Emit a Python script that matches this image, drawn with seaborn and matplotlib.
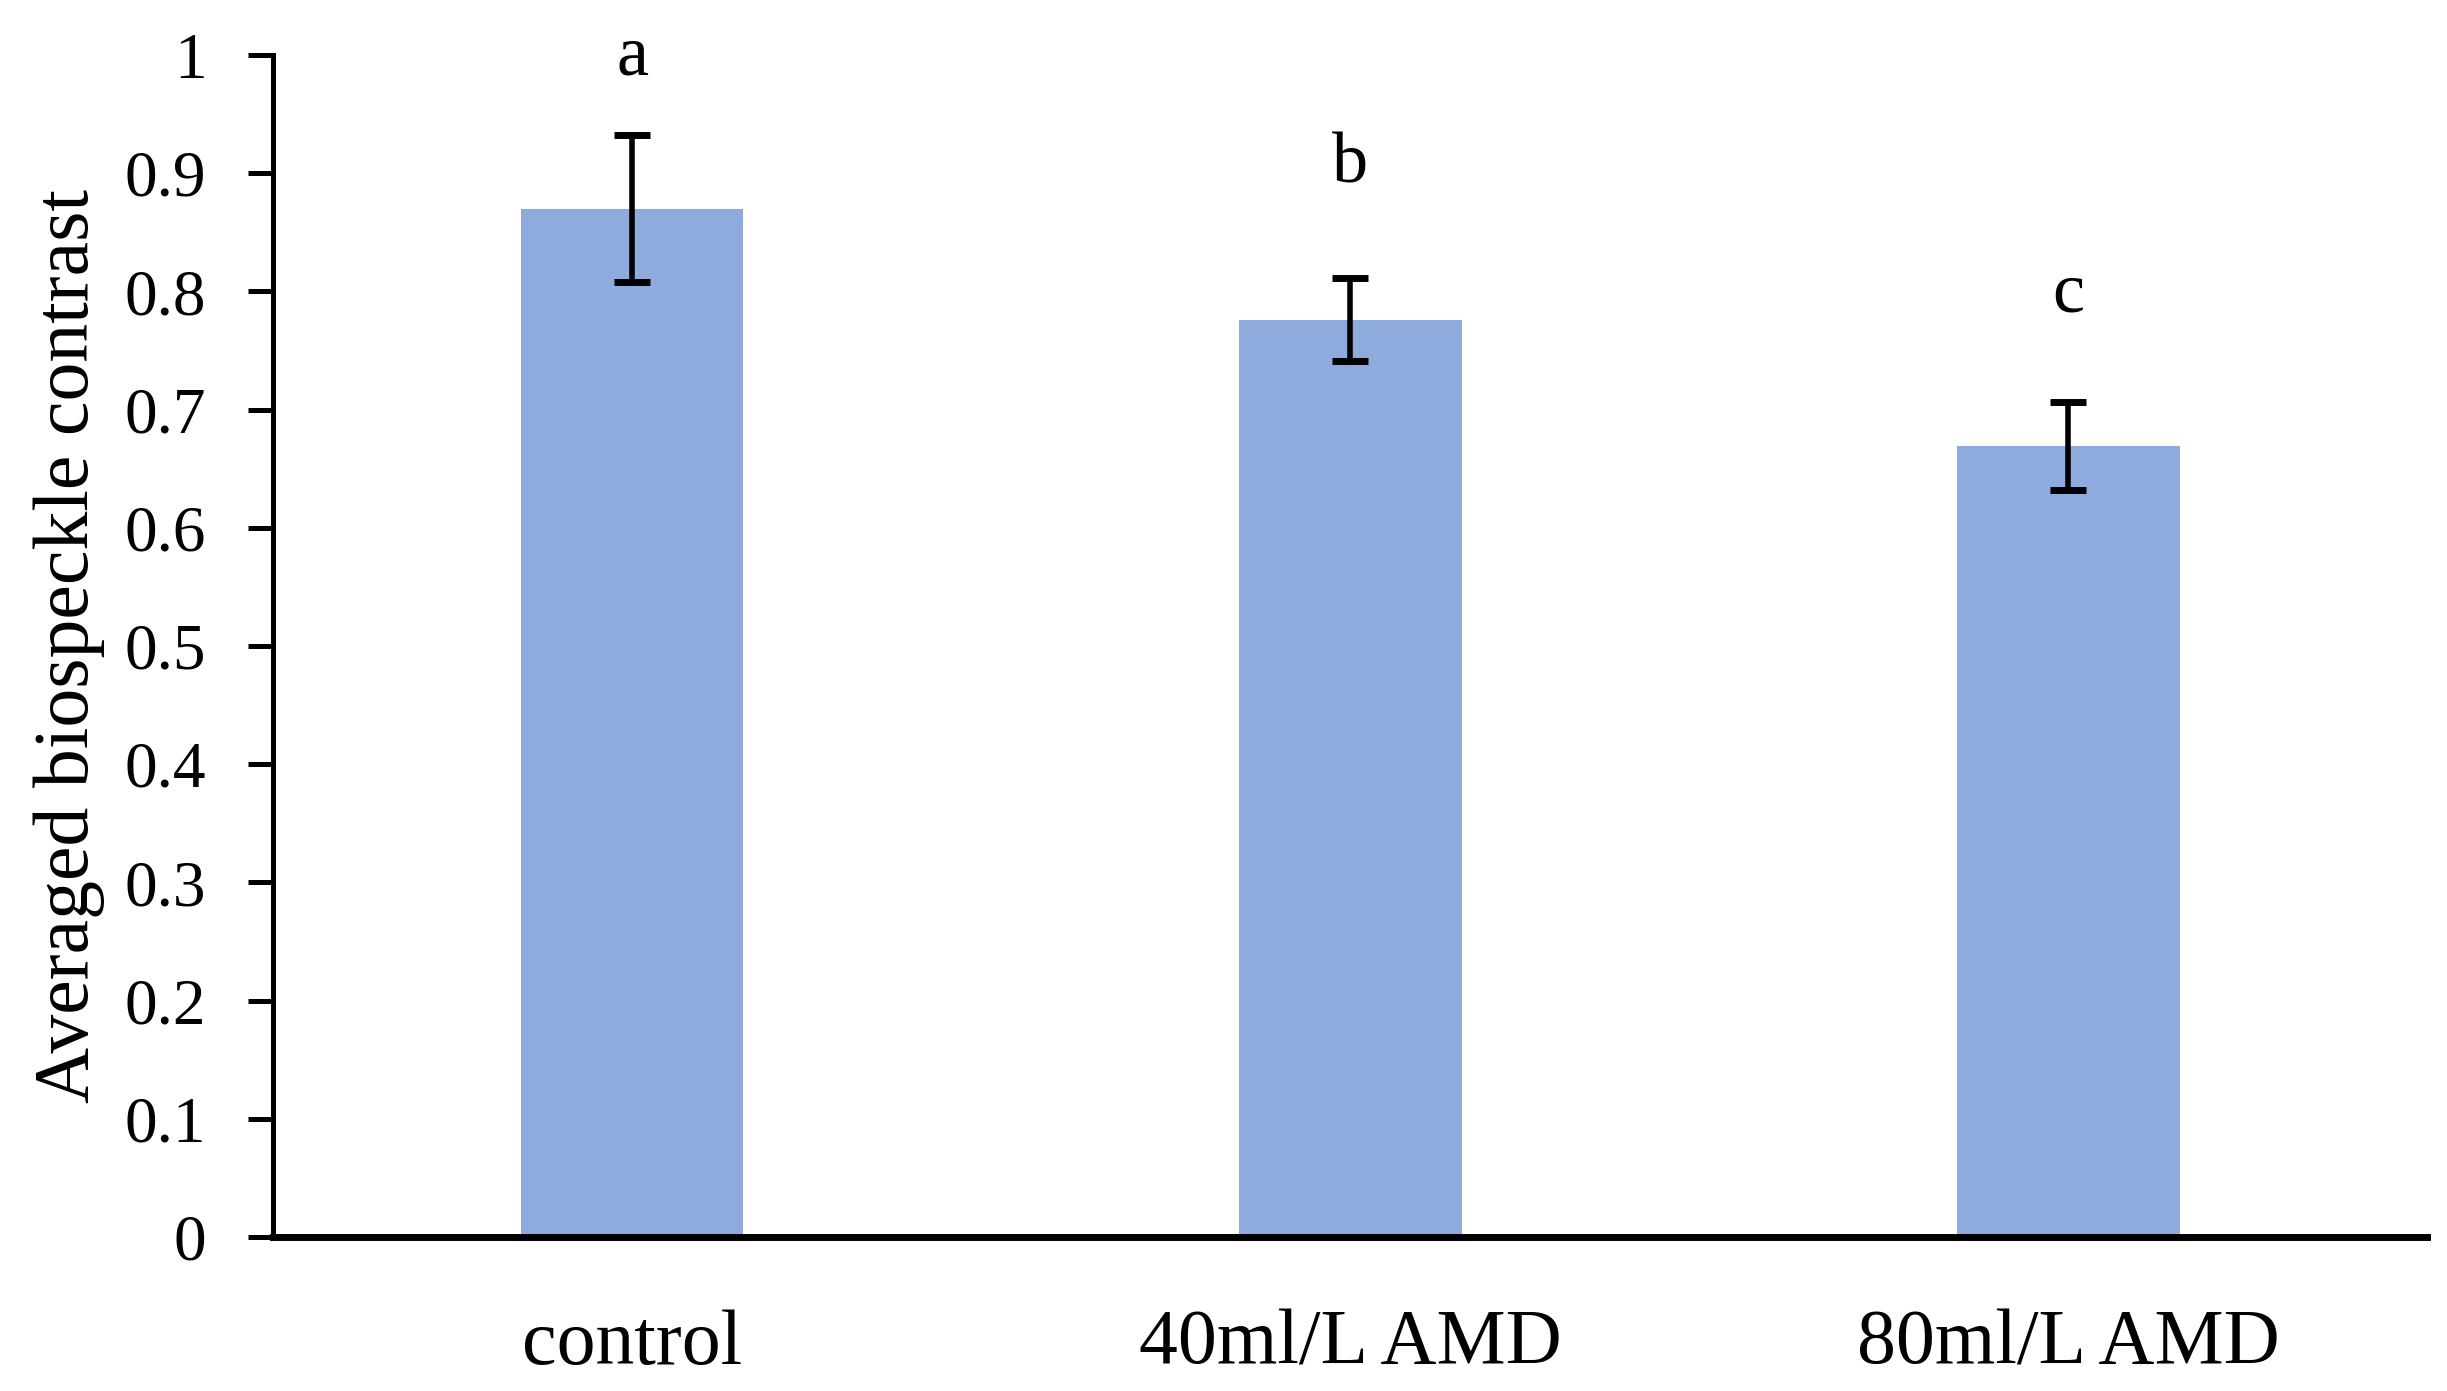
import matplotlib
matplotlib.use("Agg")
import matplotlib.pyplot as plt
import seaborn as sns
import pandas as pd
import numpy as np

categories = ["control", "40ml/L AMD", "80ml/L AMD"]
means = [0.870, 0.776, 0.669]
errors = [0.062, 0.035, 0.037]
letters = ["a", "b", "c"]
letter_y = [0.998, 0.907, 0.798]
yticks = [0, 0.1, 0.2, 0.3, 0.4, 0.5, 0.6, 0.7, 0.8, 0.9, 1]
ytick_labels = ["0", "0.1", "0.2", "0.3", "0.4", "0.5", "0.6", "0.7", "0.8", "0.9", "1"]

sns.set_theme(style="white")
plt.rcParams['font.family'] = ['Liberation Serif', 'DejaVu Serif']

df = pd.DataFrame({"cat": categories, "val": means})

fig = plt.figure(figsize=(24.47, 13.91), dpi=100)
ax = fig.add_axes([0.1116, 0.1107, 0.8804, 0.8498])
sns.barplot(data=df, x="cat", y="val", color="#8FAADC", saturation=1, width=0.31, ax=ax, errorbar=None)
for p in ax.patches:
    p.set_edgecolor("none")
ax.errorbar(range(len(categories)), means, yerr=errors, fmt="none", ecolor="black",
            elinewidth=4, capsize=13, capthick=5)
for i, (l, y) in enumerate(zip(letters, letter_y)):
    ax.text(i, y, l, ha="center", va="center", fontsize=52, color="black")

ax.set_xlim(-0.5, 2.5)
ax.set_ylim(0, 1)
ax.set_yticks(yticks)
ax.set_yticklabels(ytick_labels)
ax.tick_params(axis="y", which="major", left=True, length=18, width=3.6, labelsize=47, pad=30, colors="black")
ax.tick_params(axis="x", bottom=False, labelsize=56, pad=46, colors="black")
ax.set_xlabel("")
ax.set_ylabel("Averaged biospeckle contrast", fontsize=56, labelpad=14, color="black")
for s in ["top", "right"]:
    ax.spines[s].set_visible(False)
ax.spines["left"].set_linewidth(3.6)
ax.spines["left"].set_color("black")
ax.spines["bottom"].set_linewidth(5)
ax.spines["bottom"].set_color("black")
ax.spines["left"].set_zorder(5)
ax.spines["bottom"].set_zorder(5)

fig.savefig("out.png", dpi=100, facecolor="white")
